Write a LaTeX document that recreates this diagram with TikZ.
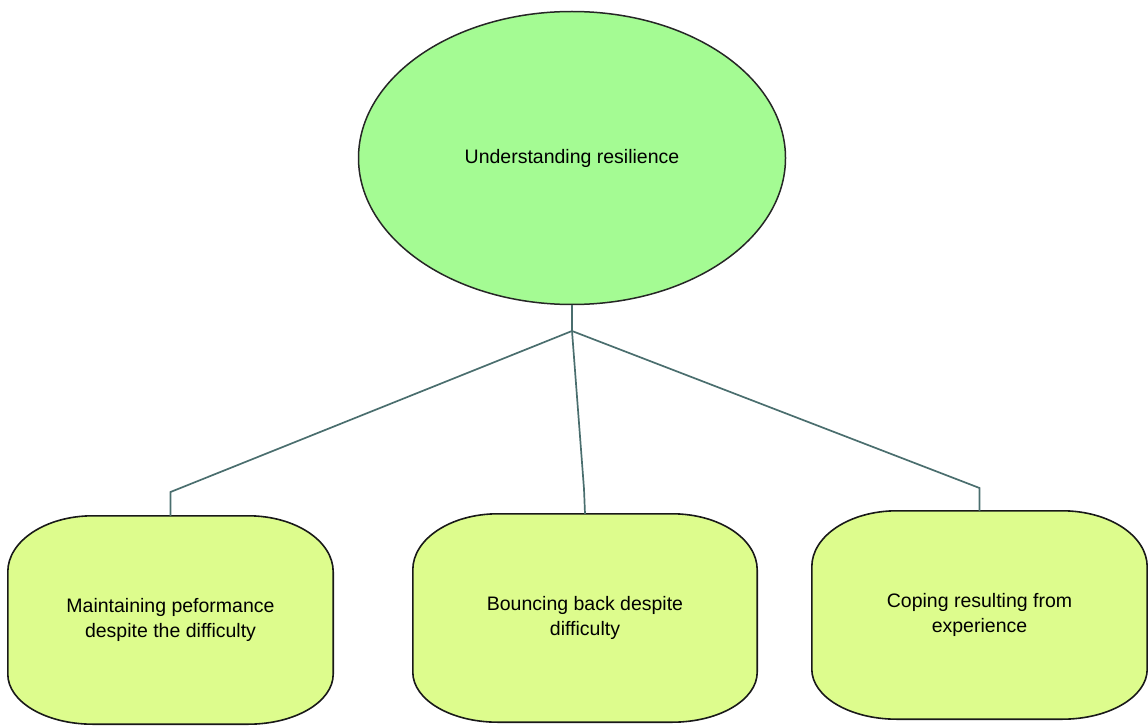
\documentclass[tikz,border=0pt]{standalone}
\usepackage{fontspec}
\setmainfont{Liberation Sans}
\usetikzlibrary{shapes.geometric,backgrounds}

\definecolor{topfill}{HTML}{A4FB93}
\definecolor{leaffill}{HTML}{DDFC8D}
\definecolor{linkcol}{HTML}{4A6E6E}

% Outline of a box with elliptical corners, drawn behind the named node
\newcommand{\softoutline}[1]{%
  \begin{scope}[on background layer]
    \draw[leafline]
      ([xshift=85pt]#1.north west) -- ([xshift=-85pt]#1.north east)
      arc[start angle=90,end angle=0,x radius=85pt,y radius=56pt]
      -- ([yshift=50pt]#1.south east)
      arc[start angle=0,end angle=-90,x radius=85pt,y radius=50pt]
      -- ([xshift=85pt]#1.south west)
      arc[start angle=-90,end angle=-180,x radius=85pt,y radius=50pt]
      -- ([yshift=-56pt]#1.north west)
      arc[start angle=180,end angle=90,x radius=85pt,y radius=56pt]
      -- cycle;
  \end{scope}}

\begin{document}
\begin{tikzpicture}[x=1pt,y=-1pt,
  every node/.style={font=\fontsize{19.5}{25}\selectfont},
  topnode/.style={ellipse,draw=black!85,line width=1.5pt,fill=topfill,
    minimum width=427pt,minimum height=293pt,inner sep=0pt},
  leafnode/.style={rectangle,minimum height=208pt,inner sep=0pt,align=center},
  leafline/.style={draw=black!90,line width=1.6pt,fill=leaffill},
  link/.style={draw=linkcol,line width=1.7pt}]

  \useasboundingbox (0,0) rectangle (1148,727);

  \node[topnode] (top) at (572,158) {Understanding resilience};

  \node[leafnode,minimum width=325pt] (b1) at (170.5,620)
    {Maintaining peformance\\despite the difficulty};
  \node[leafnode,minimum width=344pt] (b2) at (585,618)
    {Bouncing back despite\\difficulty};
  \node[leafnode,minimum width=335pt] (b3) at (979.5,615)
    {Coping resulting from\\experience};

  \softoutline{b1}
  \softoutline{b2}
  \softoutline{b3}

  % tree connectors
  \coordinate (hub) at (572,331);
  \coordinate (k1) at (170.5,492);
  \coordinate (k2) at (584,489);
  \coordinate (k3) at (979.5,488);

  \draw[link] (top.south) -- (hub);
  \draw[link] (hub) -- (k1) -- (b1.north);
  \draw[link] (hub) -- (k2) -- (b2.north);
  \draw[link] (hub) -- (k3) -- (b3.north);
\end{tikzpicture}
\end{document}
